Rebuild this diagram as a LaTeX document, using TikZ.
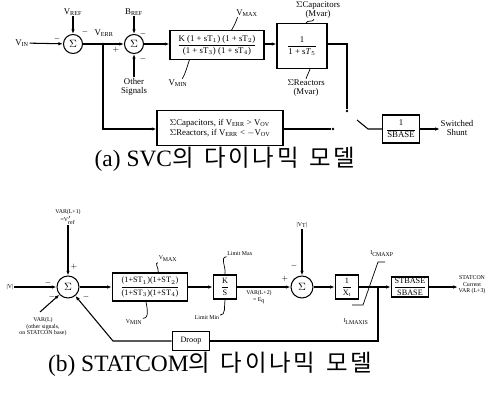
\documentclass[tikz,border=0pt]{standalone}
\usepackage{amsmath}
\usepackage{fontspec}
\setmainfont{Liberation Serif}
\newfontfamily\krfont[LetterSpace=12]{Noto Sans CJK KR}
\usetikzlibrary{positioning,arrows.meta,calc}

\begin{document}
\begin{tikzpicture}[x=0.03cm, y=-0.03cm, >={Latex[length=4pt,width=3pt]},
  every node/.style={align=center, inner sep=0.5pt},
  wire/.style={line width=0.9pt},
  lblA/.style={font=\fontsize{7.5}{8}\selectfont},
  lblB/.style={font=\fontsize{5}{5.6}\selectfont},
  sgn/.style={font=\fontsize{6}{6}\selectfont},
  sumA/.style={draw, line width=0.9pt, circle, minimum size=0.57cm, font=\small},
  sumB/.style={draw, line width=0.9pt, circle, minimum size=0.66cm, font=\small},
  blkA/.style={draw, line width=0.9pt, font=\fontsize{7.5}{8}\selectfont},
  blkB/.style={draw, line width=1.3pt, font=\fontsize{7}{8}\selectfont},
  dot/.style={circle, fill, inner sep=0pt, minimum size=2.5pt},
  caption/.style={font=\fontsize{20}{22}\selectfont}]
\useasboundingbox (0,0) rectangle (489,396);

% (a) SVC
\node[lblA] (vin) at (22,43) {V$_{\mathrm{IN}}$};
\node[sumA] (s1) at (73,44) {$\Sigma$};
\node[lblA] (vref) at (73,12) {V$_{\mathrm{REF}}$};
\node[sumA] (s2) at (134,44) {$\Sigma$};
\node[lblA] (bref) at (134,12) {B$_{\mathrm{REF}}$};
\node[lblA] (oth) at (134,87) {Other\\Signals};
\node[lblA] (verr) at (104,33) {V$_{\mathrm{ERR}}$};
\node[blkA, minimum width=2.82cm, minimum height=0.86cm] (lead) at (217,45)
  {$\dfrac{\text{K (1 + sT$_1$) (1 + sT$_2$)}}{\text{(1 + sT$_3$) (1 + sT$_4$)}}$};
\node[blkA, minimum width=1.5cm, minimum height=1.35cm] (lag) at (302,46)
  {$\dfrac{\text{1}}{\text{1 + s\textit{T}$_5$}}$};
\node[lblA] (vmaxA) at (247,13) {V$_{\mathrm{MAX}}$};
\node[lblA] (vminA) at (178,83) {V$_{\mathrm{MIN}}$};
\node[lblA] (capA) at (318,10) {$\Sigma$Capacitors\\(Mvar)};
\node[lblA] (reaA) at (306,88) {$\Sigma$Reactors\\(Mvar)};
\node[blkA, minimum width=3.78cm, minimum height=1.05cm, align=left] (thr) at (220,128)
  {$\Sigma$Capacitors, if V$_{\mathrm{ERR}}$ > V$_{\mathrm{OV}}$\\$\Sigma$Reactors, if V$_{\mathrm{ERR}}$ < $-$V$_{\mathrm{OV}}$};
\node[blkA, minimum width=1.11cm, minimum height=0.84cm] (sbase) at (401,129)
  {$\dfrac{\text{1}}{\text{SBASE}}$};
\node[lblA] (shunt) at (457,128) {Switched\\Shunt};
\coordinate (j1) at (103,44);
\coordinate (c1) at (103,129);
\coordinate (c2) at (347,44);
\node[dot] (up) at (347,111) {};
\node[dot] (lo) at (333,129) {};
\coordinate (bl) at (357,120);
\coordinate (bk) at (368,129);

\draw[wire,->] (vin) -- (s1);
\draw[wire,->] (vref) -- (s1);
\draw[wire,->] (s1) -- (s2);
\draw[wire,->] (bref) -- (s2);
\draw[wire,->] (oth) -- (s2);
\draw[wire,->] (s2) -- (s2 -| lead.west);
\draw[wire,->] (lead.east |- s2) -- (lag.west |- s2);
\draw[wire] (lag.east |- s2) -- (c2) -- (up);
\draw[wire,->] (j1) -- (c1) -- (thr.west |- c1);
\draw[wire] (thr.east |- lo) -- (lo);
\draw[wire] (bl) -- (bk) -- (sbase.west |- bk);
\draw[wire,->] (sbase) -- (shunt.west |- sbase);
\fill (j1) circle (1.2pt);
\draw[line width=0.6pt] (vmaxA.south west) ++(2,0) to[out=-110,in=60] ($(lead.north east)+(-33,0)$);
\draw[line width=0.6pt] (vminA.north east) ++(-6,0) to[out=60,in=-110] ($(lead.south west)+(20,0)$);
\draw[line width=0.6pt] (capA.south) ++(-4,0) to[out=-110,in=70] ($(lag.north)+(4,0)$);
\draw[line width=0.6pt] (reaA.north) ++(0,0) to[out=70,in=-110] ($(lag.south)+(8,0)$);
\node[sgn] at (57,39) {$-$};
\node[sgn] at (85,32) {$-$};
\node[sgn] at (116,50) {$+$};
\node[sgn] at (143,34) {$-$};
\node[sgn] at (143,59) {$-$};

\node[caption] (capa) at (225,159) {(a) SVC{\krfont 의\hspace{0.45em}다이나믹\hspace{0.45em}모델}};

% (b) STATCOM
\node[lblB] (vmag) at (10,287) {|V|};
\node[sumB] (s3) at (68,287) {$\Sigma$};
\node[lblB] (varl1) at (68,217) {VAR(L+1)\\=V$'_{\mathrm{ref}}$};
\node[lblB] (varl) at (43,327) {VAR(L)\\(other signals,\\on STATCON base)};
\node[blkB, minimum width=2.25cm, minimum height=0.84cm] (leadB) at (150,287)
  {$\dfrac{\text{(1+ST$_1$)(1+ST$_2$)}}{\text{(1+ST$_3$)(1+ST$_4$)}}$};
\node[blkB, minimum width=0.69cm, minimum height=0.72cm] (integ) at (225,287)
  {$\dfrac{\text{K}}{\text{S}}$};
\node[sumB] (s4) at (302,287) {$\Sigma$};
\node[lblB] (vt) at (302,225) {|V$_{\mathrm{T}}$|};
\node[blkB, minimum width=0.69cm, minimum height=0.72cm] (xt) at (347,287)
  {$\dfrac{\text{1}}{\text{X$_{\mathrm{t}}$}}$};
\node[blkB, minimum width=1.11cm, minimum height=0.6cm] (stb) at (410,287)
  {$\dfrac{\text{STBASE}}{\text{SBASE}}$};
\node[lblB] (outB) at (472,285) {STATCON\\Current\\VAR (L+3)};
\node[blkB, minimum width=1.11cm, minimum height=0.57cm] (droop) at (191,341) {Droop};
\node[lblB] (vmaxB) at (168,259) {V$_{\mathrm{MAX}}$};
\node[lblB] (vminB) at (134,322) {V$_{\mathrm{MIN}}$};
\node[lblB] (lmax) at (240,254) {Limit Max};
\node[lblB] (lmin) at (207,318) {Limit Min};
\node[lblB] (eq) at (259,297) {VAR(L+2)\\= E$_{\mathrm{q}}$};
\node[lblB] (icmax) at (382,254) {I$_{\mathrm{CMAXP}}$};
\node[lblB] (ilmax) at (356,322) {I$_{\mathrm{LMAXIS}}$};
\coordinate (j2) at (378,287);
\coordinate (c3) at (378,341);
\coordinate (c4) at (113,341);
\coordinate (lim1) at (352,305);
\coordinate (lim2) at (363,305);
\coordinate (lim3) at (378,262);
\coordinate (lim4) at (385,262);

\draw[wire,->] (vmag) -- (s3);
\draw[wire,->] (varl1) -- (s3);
\draw[wire,->] (varl.north) ++(-3,-5) -- (s3);
\draw[wire,->] (s3) -- (leadB);
\draw[wire,->] (leadB) -- (integ);
\draw[wire,->] (integ) -- (s4);
\draw[wire,->] (vt) -- (s4);
\draw[wire,->] (s4) -- (xt);
\draw[wire,->] (xt) -- (stb);
\draw[wire,->] (stb) -- (outB.west |- stb);
\draw[wire] (j2) -- (c3) -- (droop);
\draw[wire,->] (droop) -- (c4) -- (s3);
\fill (j2) circle (1pt);
\draw[line width=0.6pt] (lim1) -- (lim2) -- (lim3) -- (lim4);
\draw[line width=0.6pt] ($(leadB.north east)+(-30,0)$) to[out=80,in=180] (vmaxB.south west);
\draw[line width=0.6pt] ($(leadB.south)+(-4,0)$) to[out=-80,in=0] (vminB.north east);
\draw[line width=0.6pt] (integ.north) to[out=80,in=180] (lmax.south west);
\draw[line width=0.6pt] (integ.south) to[out=-100,in=0] (lmin.north east);
\node[sgn] at (48,283) {$-$};
\node[sgn] at (74,267) {$+$};
\node[sgn] at (52,297) {$-$};
\node[sgn] at (86,297) {$-$};
\node[sgn] at (285,279) {$+$};
\node[sgn] at (294,266) {$-$};

\node[caption] (capb) at (210,364) {(b) STATCOM{\krfont 의\hspace{0.45em}다이나믹\hspace{0.45em}모델}};
\end{tikzpicture}
\end{document}
